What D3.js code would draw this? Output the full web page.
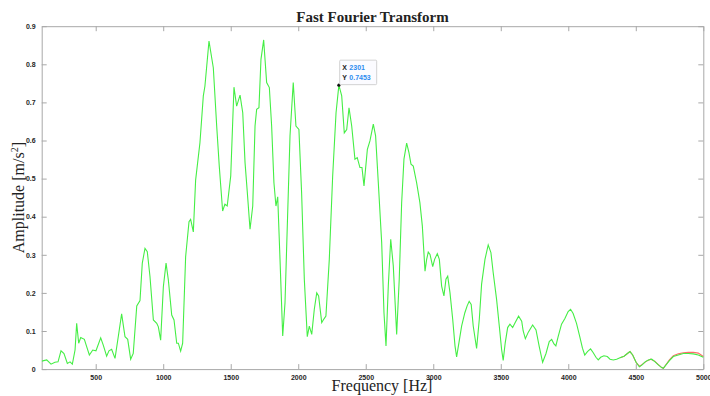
<!DOCTYPE html>
<html>
<head>
<meta charset="utf-8">
<script src="https://cdn.jsdelivr.net/npm/d3@7"></script>
<style>
  html, body { margin: 0; padding: 0; background: #fff; }
  svg { display: block; }
</style>
</head>
<body>
<svg id="chart" width="710" height="396"></svg>
<script>
// ---- Data ----
const freq = [100,137,169,198,221,243,265,290,310,327,347,359,374,389,416,433,453,478,502,537,556,581,598,618,643,667,692,717,737,759,778,804,828,845,865,882,902,927,952,964,981,1001,1021,1038,1063,1080,1100,1112,1129,1144,1166,1191,1203,1223,1240,
1272,1297,1309,1339,1371,1396,1415,1440,1457,1474,1500,1524,1544,1569,1589,1606,1623,1643,1663,1680,1692,1709,1724,1744,1766,1786,1803,1820,1835,1848,1865,1885,1902,1919,1939,1963,1983,2005,2025,2045,2067,2082,2100,2119,2137,2151,2174,2191,2205,2230,2255,2280,2301,2322,2341,2359,2376,2396,2420,2437,2457,2472,2487,2512,2531,2556,2573,2593,2618,2635,2650,2667,2685,2704,2729,2748,2766,2783,2803,2820,2835,2852,2877,2901,2919,2939,2951,2963,2976,2996,3010,3030,3045,3062,3079,3094,3107,3124,3144,3161,3173,3190,3210,3234,3251,3266,3281,3296,3321,3341,3358,3383,3407,3427,3444,3469,3489,3506,3518,3533,3551,3568,3588,3607,3632,3655,3666,3682,3704,3736,3761,3785,3810,3835,3859,3877,3894,3908,3925,3950,3975,3999,4017,4036,4061,4085,4105,4122,4142,4165,4185,4205,4222,4240,4264,4289,4309,4333,4358,4383,4413,4438,4457,4477,4502,4527,4547,4569,4593,4618,4643,4667,4692,4704,4724,4749,4778,4815,4852,4889,4926,4963,5000];
const ampGreen = [.021,.024,.013,.018,.019,.048,.041,.015,.019,.013,.05,.12,.068,.083,.078,.059,.037,.05,.048,.082,.063,.034,.048,.052,.028,.085,.145,.085,.078,.026,.041,.166,.18,.278,.317,.308,.243,.129,.12,.111,.076,.216,.278,.234,.142,.129,.068,.068,.047,.068,.295,.387,.393,.36,.496,
.594,.717,.743,.861,.791,.638,.533,.415,.433,.428,.507,.74,.69,.719,.673,.542,.463,.367,.428,.638,.682,.686,.813,.864,.752,.739,.638,.489,.428,.452,.288,.087,.174,.376,.612,.752,.638,.629,.463,.236,.085,.113,.091,.157,.2,.192,.122,.132,.139,.288,.507,.673,.7453,.717,.62,.629,.686,.638,.551,.555,.529,.529,.481,.577,.599,.643,.612,.489,.332,.148,.061,.218,.341,.271,.091,.236,.437,.551,.593,.568,.538,.533,.489,.437,.376,.257,.288,.307,.301,.269,.288,.303,.288,.218,.192,.236,.244,.2,.131,.061,.032,.069,.113,.148,.166,.178,.17,.113,.054,.131,.223,.288,.326,.306,.253,.183,.113,.052,.023,.069,.109,.118,.109,.122,.139,.126,.1,.08,.097,.116,.103,.059,.018,.041,.072,.078,.066,.061,.085,.118,.133,.151,.157,.146,.12,.085,.055,.037,.046,.053,.043,.031,.024,.031,.035,.033,.026,.024,.026,.03,.034,.041,.046,.037,.018,.006,.011,.019,.024,.026,.019,.011,.004,.002,.011,.022,.033,.037,.041,.041,.04,.037,.031];

// Second (red) series: only visible where it departs from the green one
const freqRed = [4383,4413,4438,4457,4477,4502,4527,4550,4580,4610,4640,4667,4692,4704,4724,4749,4778,4815,4852,4889,4926,4963,5000];
const ampRed  = [.030,.034,.041,.046,.037,.018,.007,.013,.021,.026,.021,.012,.004,.002,.012,.024,.035,.040,.043,.044,.044,.042,.033];

const xTicks = [500,1000,1500,2000,2500,3000,3500,4000,4500,5000];
const yTicks = [0,0.1,0.2,0.3,0.4,0.5,0.6,0.7,0.8,0.9];
const tip = {x: 2301, y: 0.7453};

// ---- Layout ----
const svg = d3.select("#chart");
const L = 41.7, R = 703.3, T = 26.2, B = 369.1;
const x = d3.scaleLinear().domain([100, 5000]).range([L, R]);
const y = d3.scaleLinear().domain([0, 0.9]).range([B, T]);

const axisColor = "#a8a8a8";
const labelColor = "#262626";
const tickFont = "bold 7px 'Liberation Sans', Arial, sans-serif";

// bottom axis
const gx = svg.append("g").attr("transform", `translate(0,${B})`)
  .call(d3.axisBottom(x).tickValues(xTicks).tickSizeInner(-5).tickSizeOuter(0).tickPadding(6).tickFormat(d3.format("d")));
// top axis (ticks only)
const gxt = svg.append("g").attr("transform", `translate(0,${T})`)
  .call(d3.axisTop(x).tickValues(xTicks).tickSizeInner(-5).tickSizeOuter(0).tickFormat(""));
// left axis
const gy = svg.append("g").attr("transform", `translate(${L},0)`)
  .call(d3.axisLeft(y).tickValues(yTicks).tickSizeInner(-5).tickSizeOuter(0).tickPadding(6).tickFormat(d => d === 0 ? "0" : d3.format(".1f")(d)));
// right axis (ticks only)
const gyr = svg.append("g").attr("transform", `translate(${R},0)`)
  .call(d3.axisRight(y).tickValues(yTicks).tickSizeInner(-5).tickSizeOuter(0).tickFormat(""));

[gx, gxt, gy, gyr].forEach(g => {
  g.select(".domain").attr("stroke", axisColor).attr("stroke-width", 1);
  g.selectAll(".tick line").attr("stroke", axisColor);
  g.selectAll(".tick text").style("font", tickFont).attr("fill", labelColor);
});

// ---- Lines ----
const lineRed = d3.line().x((d, i) => x(freqRed[i])).y(d => y(d));
const lineGreen = d3.line().x((d, i) => x(freq[i])).y(d => y(d));

svg.append("clipPath").attr("id", "clip").append("rect")
  .attr("x", L).attr("y", T).attr("width", R - L + 1).attr("height", B - T);

svg.append("path").datum(ampRed)
  .attr("clip-path", "url(#clip)")
  .attr("d", lineRed).attr("fill", "none").attr("stroke", "#ff6a6a").attr("stroke-width", 1.1);
svg.append("path").datum(ampGreen)
  .attr("clip-path", "url(#clip)")
  .attr("d", lineGreen).attr("fill", "none").attr("stroke", "#45ee45").attr("stroke-width", 1.1);

// ---- Data tip ----
const tx = x(tip.x), ty = y(tip.y);
svg.append("circle").attr("cx", tx).attr("cy", ty).attr("r", 1.6).attr("fill", "#111");
const tg = svg.append("g").attr("transform", `translate(${tx + 0.8},${ty - 25})`);
tg.append("rect").attr("x", 0).attr("y", 0).attr("width", 37).attr("height", 24.5)
  .attr("fill", "#fbfbff").attr("stroke", "#c8c8c8").attr("stroke-width", 0.8).attr("rx", 1);
const tipFont = "bold 7px 'Liberation Sans', Arial, sans-serif";
const rows = [["X", String(tip.x)], ["Y", String(tip.y)]];
rows.forEach((r, i) => {
  const t = tg.append("text").attr("x", 2.5).attr("y", 9.5 + i * 10.5).style("font", tipFont);
  t.append("tspan").attr("fill", "#222").text(r[0]);
  t.append("tspan").attr("fill", "#2d8cf0").attr("dx", 2.5).text(r[1]);
});

// ---- Titles ----
svg.append("text").attr("x", (L + R) / 2).attr("y", 22)
  .attr("text-anchor", "middle")
  .style("font", "bold 15px 'Liberation Serif', 'Times New Roman', serif")
  .attr("fill", "#222").text("Fast Fourier Transform");

svg.append("text").attr("x", 382).attr("y", 390.5)
  .attr("text-anchor", "middle")
  .style("font", "16px 'Liberation Serif', 'Times New Roman', serif")
  .attr("fill", "#222").text("Frequency [Hz]");

const yl = svg.append("text")
  .attr("transform", `translate(24,${(T + B) / 2}) rotate(-90)`)
  .attr("text-anchor", "middle")
  .style("font", "16px 'Liberation Serif', 'Times New Roman', serif")
  .attr("fill", "#222");
yl.append("tspan").text("Amplitude [m/s");
yl.append("tspan").attr("dy", -6).style("font-size", "10px").text("2");
yl.append("tspan").attr("dy", 6).text("]");
</script>
</body>
</html>
